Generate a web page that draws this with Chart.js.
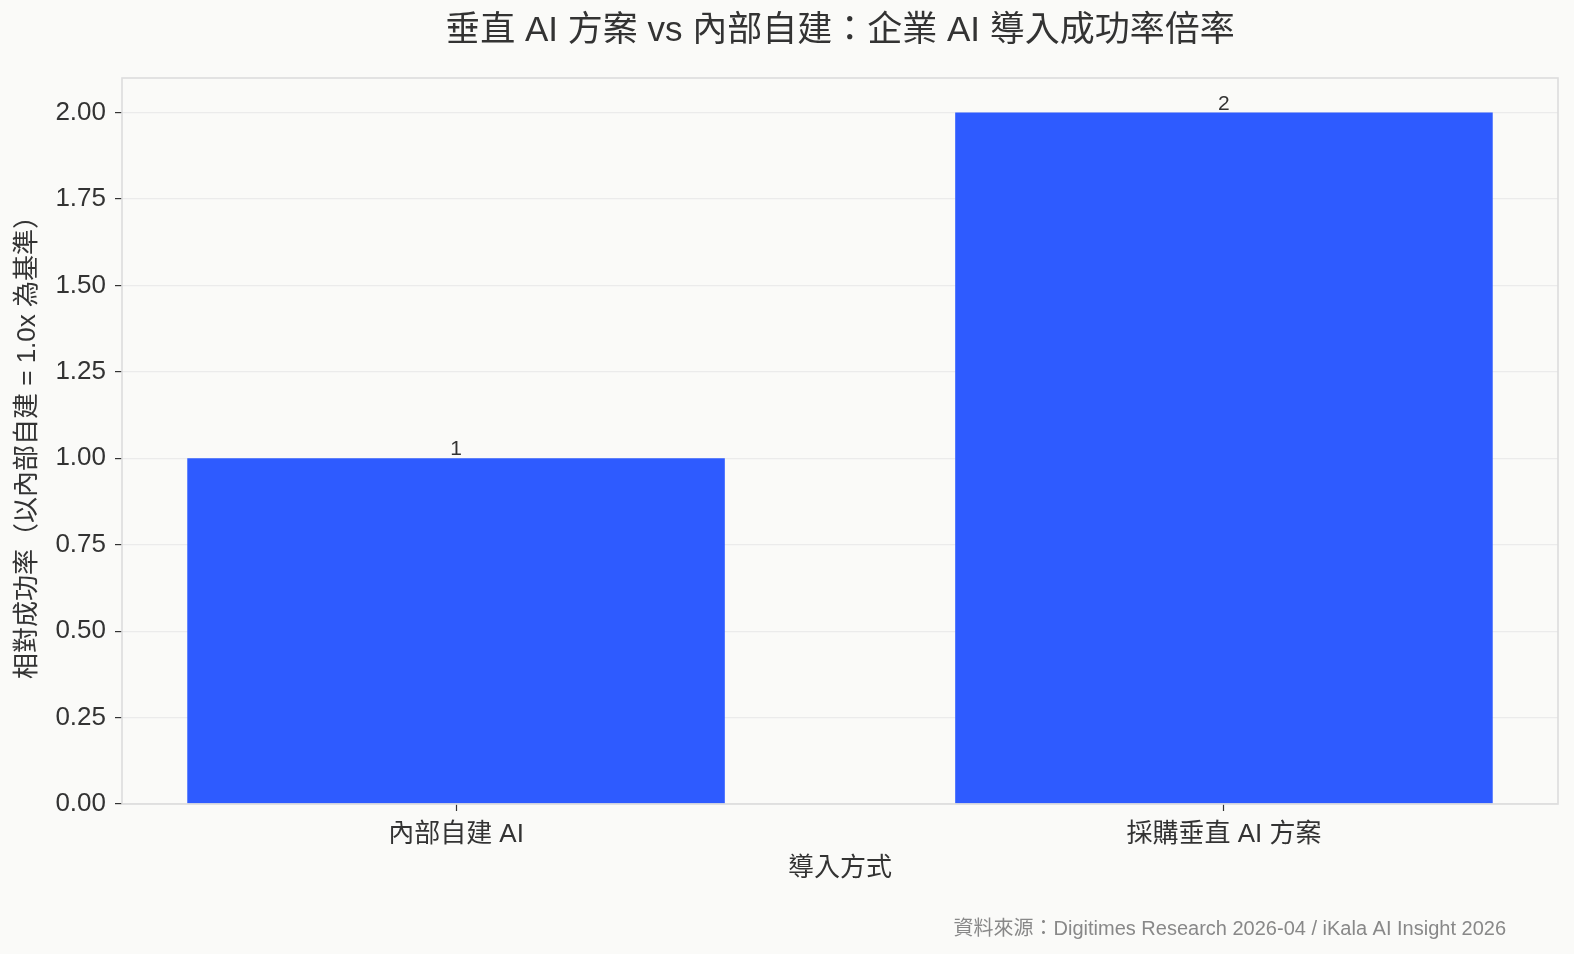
<!DOCTYPE html>
<html lang="zh-Hant">
<head>
<meta charset="utf-8">
<title>垂直 AI 方案 vs 內部自建</title>
<script src="https://cdn.jsdelivr.net/npm/chart.js@4.4.1/dist/chart.umd.min.js"></script>
<style>
  html, body { margin: 0; padding: 0; background: #fafaf8; }
  #wrap { width: 1574px; height: 954px; position: relative; }
</style>
</head>
<body>
<div id="wrap"><canvas id="chart"></canvas></div>
<script>
// data
const categories = ["內部自建 AI", "採購垂直 AI 方案"];
const successMultiple = [1, 2];
const yTicks = [0, 0.25, 0.5, 0.75, 1.0, 1.25, 1.5, 1.75, 2.0];

const TITLE = "垂直 AI 方案 vs 內部自建：企業 AI 導入成功率倍率";
const SOURCE = "資料來源：Digitimes Research 2026-04 / iKala AI Insight 2026";
const X_LABEL = "導入方式";
const Y_LABEL = "相對成功率（以內部自建 = 1.0x 為基準）";

const BG = "#fafaf8";
const BAR_COLOR = "#2e5bff";
const TEXT = "#333333";
const GRID = "#ebebeb";
const FRAME = "#dddddd";
const FONT = "'Liberation Sans', Arial, 'Noto Sans CJK TC', sans-serif";

Chart.defaults.font.family = FONT;
Chart.defaults.color = TEXT;

const decorPlugin = {
  id: "decor",
  beforeDraw: (chart) => {
    const ctx = chart.ctx;
    ctx.save();
    ctx.fillStyle = BG;
    ctx.fillRect(0, 0, chart.width, chart.height);
    ctx.restore();
  },
  afterDatasetsDraw: (chart) => {
    const ctx = chart.ctx;
    const a = chart.chartArea;
    ctx.save();
    // value labels over bars
    const meta = chart.getDatasetMeta(0);
    ctx.font = "21px " + FONT;
    ctx.fillStyle = TEXT;
    ctx.textAlign = "center";
    ctx.textBaseline = "alphabetic";
    meta.data.forEach((bar, i) => {
      ctx.fillText(String(successMultiple[i]), bar.x, bar.y - 3);
    });
    // frame round the plot
    ctx.strokeStyle = FRAME;
    ctx.lineWidth = 1.6;
    ctx.strokeRect(a.left, a.top, a.right - a.left, a.bottom - a.top);
    ctx.restore();
  },
  afterDraw: (chart) => {
    const ctx = chart.ctx;
    const a = chart.chartArea;
    ctx.save();
    ctx.fillStyle = TEXT;
    ctx.font = "35px " + FONT;
    ctx.textAlign = "center";
    ctx.textBaseline = "middle";
    ctx.fillText(TITLE, (a.left + a.right) / 2, 31);

    ctx.fillStyle = "#888888";
    ctx.font = "20px " + FONT;
    ctx.textAlign = "right";
    ctx.textBaseline = "alphabetic";
    ctx.fillText(SOURCE, 1506, 935);
    ctx.restore();
  },
};

new Chart(document.getElementById("chart"), {
  type: "bar",
  data: {
    datasets: [
      {
        data: successMultiple.map((v, i) => ({ x: i, y: v })),
        backgroundColor: BAR_COLOR,
        borderWidth: 0,
        categoryPercentage: 1.0,
        barPercentage: 0.7,
      },
    ],
  },
  plugins: [decorPlugin],
  options: {
    responsive: true,
    maintainAspectRatio: false,
    animation: false,
    layout: {
      padding: { top: 78, left: 0, right: 16, bottom: 50 },
    },
    plugins: {
      legend: { display: false },
      title: { display: false },
      tooltip: { enabled: false },
    },
    scales: {
      x: {
        type: "linear",
        min: -0.435,
        max: categories.length - 1 + 0.435,
        offset: false,
        afterFit: (s) => {
          s.height = 100;
        },
        afterBuildTicks: (s) => {
          s.ticks = categories.map((c, i) => ({ value: i }));
        },
        grid: {
          offset: false,
          drawOnChartArea: false,
          drawTicks: true,
          tickLength: 7,
          tickColor: TEXT,
          tickWidth: 1.2,
        },
        border: { display: false },
        ticks: {
          color: TEXT,
          font: { size: 26 },
          padding: 8,
          callback: (v) => categories[v],
        },
        title: {
          display: true,
          text: X_LABEL,
          color: TEXT,
          font: { size: 26 },
          padding: { top: 0, bottom: 20 },
        },
      },
      y: {
        min: 0,
        max: 2.1,
        afterFit: (s) => {
          s.width = 122;
        },
        afterBuildTicks: (s) => {
          s.ticks = yTicks.map((v) => ({ value: v }));
        },
        grid: {
          color: GRID,
          lineWidth: 1.2,
          drawTicks: true,
          tickLength: 7,
          tickColor: TEXT,
          tickWidth: 1.2,
        },
        border: { display: false },
        ticks: {
          color: TEXT,
          font: { size: 26 },
          padding: 9,
          callback: (v) => Number(v).toFixed(2),
        },
        title: {
          display: true,
          text: Y_LABEL,
          color: TEXT,
          font: { size: 26 },
          padding: { top: 12, bottom: 0 },
        },
      },
    },
  },
});
</script>
</body>
</html>
